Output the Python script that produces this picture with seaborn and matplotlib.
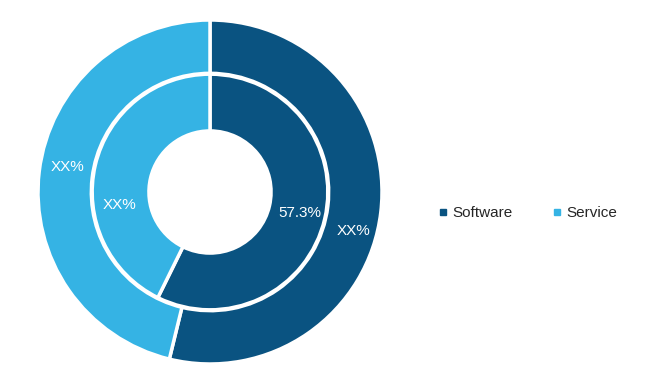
import matplotlib
matplotlib.use('Agg')
import numpy as np
import matplotlib.pyplot as plt
import seaborn as sns
from matplotlib.lines import Line2D

# data
segments = ['Software', 'Service']
outer_share = [53.8, 46.2]
inner_share = [57.3, 42.7]
outer_labels = ['XX%', 'XX%']
inner_labels = ['57.3%', 'XX%']

sns.set_theme(style='white')
plt.rcParams['font.family'] = ['Liberation Sans Narrow', 'Liberation Sans', 'DejaVu Sans']
palette = sns.color_palette(['#0a5381', '#35b3e4'])

fig = plt.figure(figsize=(6.46, 3.81), dpi=100)
ax = fig.add_axes([(210 - 172) / 646, (381 - 192 - 172) / 381, 344 / 646, 344 / 381])

wp = dict(edgecolor='white', linewidth=2.5)
tp = dict(color='white', fontsize=11)

# outer ring
_, t_out = ax.pie(outer_share, radius=1.0, colors=palette, startangle=90, counterclock=False,
                  labels=outer_labels, labeldistance=0.86, textprops=tp,
                  wedgeprops=dict(width=0.31, **wp))
# inner ring
_, t_in = ax.pie(inner_share, radius=0.685, colors=palette, startangle=90, counterclock=False,
                 labels=inner_labels, labeldistance=0.78, textprops=tp,
                 wedgeprops=dict(width=0.33, **wp))
for t in list(t_out) + list(t_in):
    t.set_ha('center')
    t.set_va('center')


def place(t, deg, r):
    # deg measured clockwise from 12 o'clock
    a = np.deg2rad(90 - deg)
    t.set_position((r * np.cos(a), r * np.sin(a)))


# labels in the reference sit a little off the wedge middle
place(t_out[0], 105, 0.865)
place(t_out[1], 280, 0.84)
place(t_in[1], 262, 0.53)

ax.set_xlim(-1.0, 1.0)
ax.set_ylim(-1.0, 1.0)
ax.set_aspect('equal')

handles = [Line2D([], [], marker='s', linestyle='', markersize=5, color=c) for c in palette]
fig.legend(handles, segments, loc='center left', bbox_to_anchor=(0.653, 0.441),
           ncol=2, frameon=False, fontsize=11, handletextpad=0.1,
           columnspacing=2.4, handlelength=1.0)

fig.savefig('out.png', dpi=100)
